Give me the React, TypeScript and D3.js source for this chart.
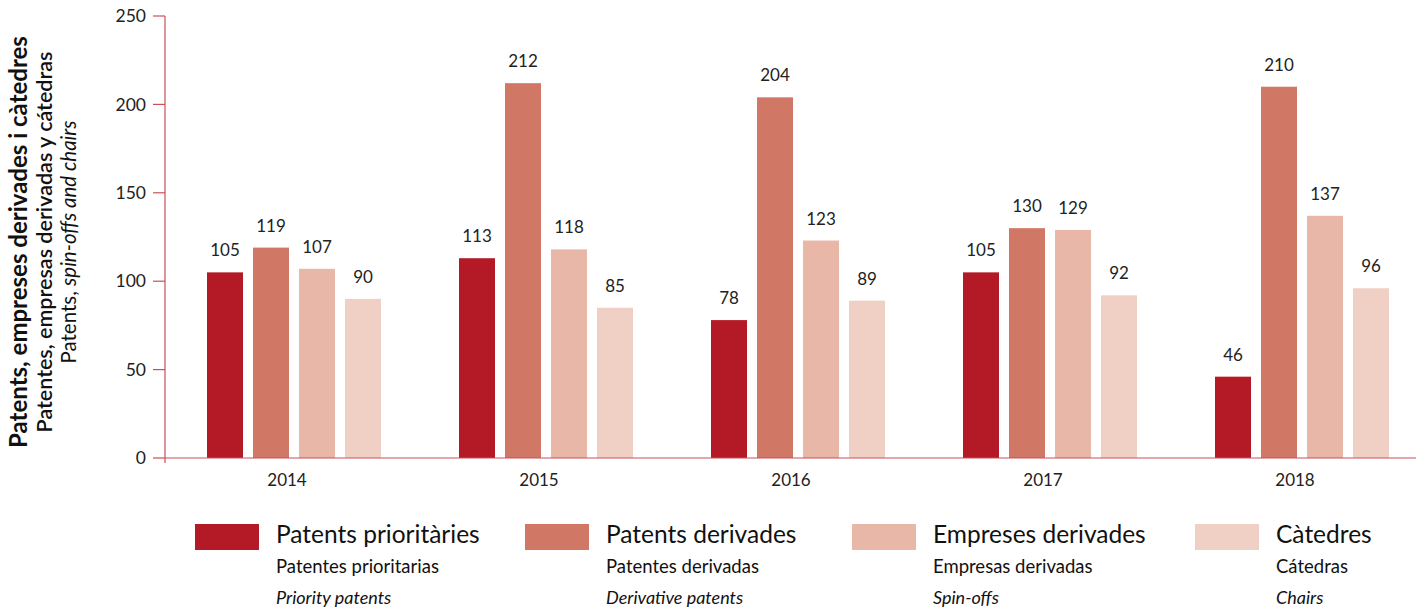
import React from "react";
import * as d3 from "d3";

const years = ["2014", "2015", "2016", "2017", "2018"];
const seriesKeys = ["prior", "deriv", "spin", "chairs"];
const priorityPatents = [105, 113, 78, 105, 46];
const derivativePatents = [119, 212, 204, 130, 210];
const spinOffs = [107, 118, 123, 129, 137];
const chairs = [90, 85, 89, 92, 96];
const yTicks = [0, 50, 100, 150, 200, 250];
const colors = ["#b31a25", "#d07765", "#e8b7a8", "#f0d0c5"];
const legendCa = ["Patents prioritàries", "Patents derivades", "Empreses derivades", "Càtedres"];
const legendEs = ["Patentes prioritarias", "Patentes derivadas", "Empresas derivadas", "Cátedras"];
const legendEn = ["Priority patents", "Derivative patents", "Spin-offs", "Chairs"];
const legendX = [195, 525, 852, 1195];

const allSeries = [priorityPatents, derivativePatents, spinOffs, chairs];

export default function App() {
  const W = 1416, H = 610;
  const axisColor = "#c8505a";
  const font = "Lato, 'Open Sans', sans-serif";
  const y = d3.scaleLinear().domain([0, 250]).range([458, 16]);
  const x0 = d3.scaleBand<string>().domain(years).range([161, 1421]);
  const x1 = d3.scaleBand<string>().domain(seriesKeys).range([0, 174]).paddingInner(10 / 46).paddingOuter(0);
  const groupStart = (yr: string) => x0(yr)! + x0.bandwidth() / 2 - 80;
  return (
    <svg width={W} height={H} style={{ position: "absolute", left: 0, top: 0 }} fontFamily={font}>
      {years.map((yr, i) => (
        <g key={yr}>
          {seriesKeys.map((k, j) => {
            const v = allSeries[j][i];
            const bx = groupStart(yr) + x1(k)!;
            return (
              <g key={k}>
                <rect x={bx} y={y(v)} width={x1.bandwidth()} height={y(0) - y(v)} fill={colors[j]} />
                <text x={bx + x1.bandwidth() / 2} y={y(v) - 16} textAnchor="middle" fontSize={17} fill="#222">{v}</text>
              </g>
            );
          })}
          <text x={x0(yr)! + x0.bandwidth() / 2} y={486} textAnchor="middle" fontSize={17} fill="#222">{yr}</text>
        </g>
      ))}
      <line x1={165} x2={W} y1={y(0)} y2={y(0)} stroke={axisColor} strokeWidth={1.2} />
      <line x1={165} x2={165} y1={y(250)} y2={y(0) + 5} stroke={axisColor} strokeWidth={1.2} />
      {yTicks.map((t) => (
        <g key={t}>
          <line x1={153} x2={165} y1={y(t)} y2={y(t)} stroke={axisColor} strokeWidth={1.2} />
          <text x={146} y={y(t)} dy="0.35em" textAnchor="end" fontSize={17.5} fill="#222">{t}</text>
        </g>
      ))}
      <g transform="translate(0,242) rotate(-90)">
        <text x={0} y={27} textAnchor="middle" fontSize={24} fontWeight="bold" fill="#111">Patents, empreses derivades i càtedres</text>
        <text x={0} y={52} textAnchor="middle" fontSize={21.5} fontWeight="600" fill="#111">Patentes, empresas derivadas y cátedras</text>
        <text x={0} y={76} textAnchor="middle" fontSize={20.5} fill="#111"><tspan>Patents, </tspan><tspan fontStyle="italic">spin-offs and chairs</tspan></text>
      </g>
      {legendCa.map((name, i) => (
        <g key={name} transform={`translate(${legendX[i]},0)`}>
          <rect x={0} y={524} width={64} height={26} fill={colors[i]} />
          <text x={81} y={543} fontSize={24.5} fill="#111">{name}</text>
          <text x={81} y={573} fontSize={18.5} fill="#111">{legendEs[i]}</text>
          <text x={81} y={604} fontSize={18} fontStyle="italic" fill="#111">{legendEn[i]}</text>
        </g>
      ))}
    </svg>
  );
}
